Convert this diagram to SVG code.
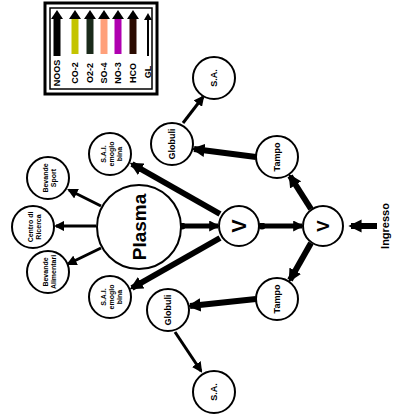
<svg xmlns="http://www.w3.org/2000/svg" width="397" height="418" viewBox="0 0 397 418">
<style>
.n{fill:#fff;stroke:#000;stroke-width:2}
.t{font-family:"Liberation Sans",Arial,sans-serif;font-weight:bold;fill:#000;text-anchor:middle}
.c{stroke:#000;fill:none;stroke-linecap:butt}
</style>
<defs>
<marker id="ah" viewBox="0 0 10 10" refX="8" refY="5" markerWidth="2.2" markerHeight="2.2" orient="auto" markerUnits="strokeWidth"><path d="M0,0L10,5L0,10z" fill="#000"/></marker>
<marker id="ahs" viewBox="0 0 10 10" refX="8" refY="5" markerWidth="3.5" markerHeight="3.5" orient="auto" markerUnits="strokeWidth"><path d="M0,0L10,5L0,10z" fill="#000"/></marker>
<marker id="dot" viewBox="0 0 10 10" refX="5" refY="5" markerWidth="1.4" markerHeight="1.4" orient="auto" markerUnits="strokeWidth"><circle cx="5" cy="5" r="5" fill="#000"/></marker>
</defs>
<g id="legend">
<rect x="45" y="3" width="112" height="91" fill="#fff" stroke="#000" stroke-width="3"/>
<rect x="50" y="8" width="102" height="81" fill="#fff" stroke="#000" stroke-width="1.5"/>
<g stroke-width="7">
<line x1="57" y1="56" x2="57" y2="18" stroke="#000"/>
<line x1="75" y1="54" x2="75" y2="18" stroke="#c4c400"/>
<line x1="90" y1="54" x2="90" y2="18" stroke="#1a2a1a"/>
<line x1="104" y1="54" x2="104" y2="18" stroke="#ffa07a"/>
<line x1="118" y1="54" x2="118" y2="18" stroke="#b000b0"/>
<line x1="133" y1="54" x2="133" y2="18" stroke="#2a0a00"/>
</g>
<line x1="148" y1="56" x2="148" y2="18" stroke="#000" stroke-width="2"/>
<g fill="#000">
<path d="M51,19L57,10L63,19z"/><path d="M69,19L75,10L81,19z"/><path d="M84,19L90,10L96,19z"/><path d="M98,19L104,10L110,19z"/><path d="M112,19L118,10L124,19z"/><path d="M127,19L133,10L139,19z"/><path d="M144,20L148,13L152,20z"/>
</g>
<g class="t" font-size="9">
<text transform="translate(60,73) rotate(-90)">NOOS</text>
<text transform="translate(78,73) rotate(-90)">CO-2</text>
<text transform="translate(93,73) rotate(-90)">O2-2</text>
<text transform="translate(107,73) rotate(-90)">SO-4</text>
<text transform="translate(121,73) rotate(-90)">NO-3</text>
<text transform="translate(136,73) rotate(-90)">HCO</text>
<text transform="translate(151,72) rotate(-90)">GL</text>
</g>
</g>
<g id="connectors">
<line class="c" x1="377" y1="226" x2="351" y2="226" stroke-width="6" marker-end="url(#ah)"/>
<line class="c" x1="262" y1="226" x2="302" y2="226" stroke-width="5" marker-start="url(#dot)" marker-end="url(#ah)"/>
<line class="c" x1="182" y1="226" x2="218" y2="226" stroke="#1a0010" stroke-width="5" marker-start="url(#dot)" marker-end="url(#ah)"/>
<line class="c" x1="311" y1="209" x2="290" y2="176" stroke-width="6" marker-end="url(#ah)"/>
<line class="c" x1="311" y1="243" x2="290" y2="280" stroke-width="6" marker-end="url(#ah)"/>
<line class="c" x1="256" y1="157" x2="194" y2="149" stroke-width="6" marker-end="url(#ah)"/>
<line class="c" x1="256" y1="299" x2="190" y2="306" stroke-width="6" marker-end="url(#ah)"/>
<line class="c" x1="183" y1="123" x2="203" y2="97" stroke-width="3" marker-end="url(#ahs)"/>
<line class="c" x1="175" y1="332" x2="201" y2="371" stroke-width="3" marker-end="url(#ahs)"/>
<line class="c" x1="220" y1="214" x2="132" y2="164" stroke="#1a0000" stroke-width="6" marker-end="url(#ah)"/>
<line class="c" x1="220" y1="238" x2="132" y2="288" stroke="#1a0000" stroke-width="6" marker-end="url(#ah)"/>
<line class="c" x1="101" y1="206" x2="69" y2="190" stroke-width="3" marker-end="url(#ahs)"/>
<line class="c" x1="96" y1="226" x2="56" y2="226" stroke-width="3" marker-end="url(#ahs)"/>
<line class="c" x1="101" y1="248" x2="68" y2="264" stroke-width="3" marker-end="url(#ahs)"/>
</g>
<g id="plasma"><circle class="n" cx="139" cy="227" r="42"/><text class="t" font-size="19" transform="translate(146,227) rotate(-90)">Plasma</text></g>
<g id="v1"><circle class="n" cx="239" cy="226" r="20"/><text class="t" font-size="20" transform="translate(246,226) rotate(-90)">V</text></g>
<g id="v2"><circle class="n" cx="323" cy="226" r="20"/><text class="t" font-size="17" transform="translate(329,226) rotate(-90)">V</text></g>
<g id="ingresso"><text class="t" font-size="11" transform="translate(389,226) rotate(-90)">Ingresso</text></g>
<g id="tampone-top"><circle class="n" cx="277" cy="157" r="21"/><text class="t" font-size="9" transform="translate(280,157) rotate(-90)">Tampo</text></g>
<g id="tampone-bottom"><circle class="n" cx="277" cy="299" r="21"/><text class="t" font-size="9" transform="translate(280,299) rotate(-90)">Tampo</text></g>
<g id="globuli-top"><circle class="n" cx="172" cy="144" r="21"/><text class="t" font-size="9" transform="translate(175,144) rotate(-90)">Globuli</text></g>
<g id="globuli-bottom"><circle class="n" cx="168" cy="310" r="21"/><text class="t" font-size="9" transform="translate(171,310) rotate(-90)">Globuli</text></g>
<g id="sa-top"><circle class="n" cx="214" cy="78" r="21"/><text class="t" font-size="9" transform="translate(217,78) rotate(-90)">S.A.</text></g>
<g id="sa-bottom"><circle class="n" cx="214" cy="392" r="21"/><text class="t" font-size="9" transform="translate(217,392) rotate(-90)">S.A.</text></g>
<g id="s-top"><circle class="n" cx="110" cy="154" r="21"/><text class="t" font-size="7" transform="translate(110,154) rotate(-90)"><tspan x="0" dy="-4">S.A.I.</tspan><tspan x="0" dy="8">emoglo</tspan><tspan x="0" dy="8">bina</tspan></text></g>
<g id="s-bottom"><circle class="n" cx="110" cy="297" r="21"/><text class="t" font-size="7" transform="translate(110,297) rotate(-90)"><tspan x="0" dy="-4">S.A.I.</tspan><tspan x="0" dy="8">emoglo</tspan><tspan x="0" dy="8">bina</tspan></text></g>
<g id="left-top"><circle class="n" cx="48" cy="178" r="21"/><text class="t" font-size="7" transform="translate(48,178) rotate(-90)"><tspan x="0" dy="0">Bevande</tspan><tspan x="0" dy="8">Sport</tspan></text></g>
<g id="left-mid"><circle class="n" cx="33" cy="227" r="21"/><text class="t" font-size="7" transform="translate(33,227) rotate(-90)"><tspan x="0" dy="0">Centro di</tspan><tspan x="0" dy="8">Ricerca</tspan></text></g>
<g id="left-bottom"><circle class="n" cx="48" cy="272" r="21"/><text class="t" font-size="7" transform="translate(48,272) rotate(-90)"><tspan x="0" dy="0">Bevande</tspan><tspan x="0" dy="8">Alimentari</tspan></text></g>
</svg>
